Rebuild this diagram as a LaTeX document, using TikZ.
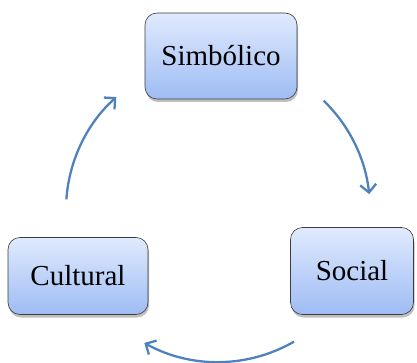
\documentclass[tikz,border=0pt]{standalone}
\usepackage{fontspec}
\setmainfont{Liberation Serif}
\usetikzlibrary{arrows.meta,shadows,calc}
\definecolor{BoxTopClr}{RGB}{224,234,253}
\definecolor{BoxBotClr}{RGB}{158,188,244}
\definecolor{BoxLineClr}{RGB}{60,60,60}
\definecolor{ArrowClr}{RGB}{79,129,189}

\begin{document}
\begin{tikzpicture}[x=1pt,y=1pt,
  stage/.style={draw=BoxLineClr,line width=0.6pt,rounded corners=12pt,
    top color=BoxTopClr,bottom color=BoxBotClr,
    drop shadow={shadow xshift=1pt,shadow yshift=-3pt,fill=black,opacity=0.25},
    font=\fontsize{29}{32}\selectfont,inner sep=0pt},
  cycle/.style={draw=ArrowClr,line width=2.3pt,-{Straight Barb[length=8pt,width=16pt,line width=2.3pt]}}]
\useasboundingbox (0,0) rectangle (417,362);

% The three boxes of the cycle.
\node[stage,minimum width=152pt,minimum height=86pt] (sim) at (221,306) {Simbólico};
\node[stage,minimum width=123pt,minimum height=87pt] (soc) at (352,91) {Social};
\node[stage,minimum width=140pt,minimum height=77pt] (cul) at (78,86) {Cultural};

% Ends of the arcs, on one circle round the middle.
\coordinate (mid) at (218,152);
\coordinate (a1) at ($(mid)+(46:152)$);
\coordinate (b1) at ($(mid)+(-60:152)$);
\coordinate (c1) at ($(mid)+(176:152)$);

\draw[cycle] (a1) arc[start angle=46,end angle=6,radius=152];
\draw[cycle] (b1) arc[start angle=-60,end angle=-119,radius=152];
\draw[cycle] (c1) arc[start angle=176,end angle=132,radius=152];
\end{tikzpicture}
\end{document}
